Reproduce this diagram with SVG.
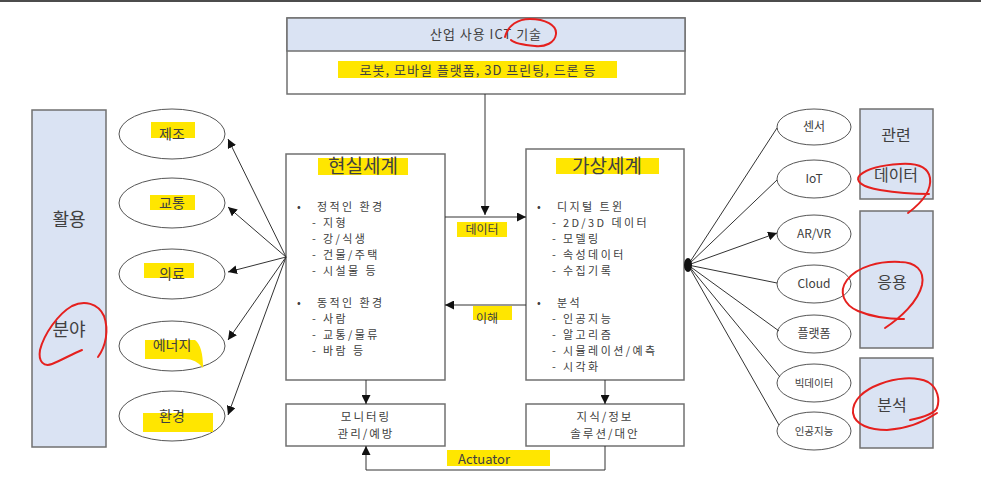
<svg xmlns="http://www.w3.org/2000/svg" width="981" height="489" viewBox="0 0 981 489">
<defs>
<style>
text{font-family:"Noto Sans CJK KR","Noto Sans",sans-serif;fill:#404040;}
.c{text-anchor:middle;}
.hl{fill:#FFE600;}
.box{fill:#fff;stroke:#707070;stroke-width:1.5;}
.blue{fill:#DAE3F3;stroke:#707070;stroke-width:1.5;}
.ell{fill:#fff;stroke:#555;stroke-width:1;}
.ln{stroke:#333;stroke-width:1;fill:none;}
.red{stroke:#E5201E;stroke-width:2;fill:none;stroke-linecap:round;}
.t13{font-size:11px;letter-spacing:2.4px;}
.t12{font-size:11.5px;letter-spacing:2px;}
</style>
<marker id="ah" viewBox="0 0 10 10" refX="10" refY="5" markerWidth="9" markerHeight="9" markerUnits="userSpaceOnUse" orient="auto"><path d="M0,0 L10,5 L0,10 z" fill="#111"/></marker>
</defs>
<rect width="981" height="489" fill="#fff"/>
<line x1="0" y1="1" x2="981" y2="1" stroke="#111" stroke-width="1.5"/>

<g id="ict">
<rect class="box" x="287" y="18" width="398" height="76"/>
<rect class="blue" x="287" y="18" width="398" height="33"/>
<text class="c" x="486" y="39" font-size="13" letter-spacing="1">산업 사용 ICT 기술</text>
<rect class="hl" x="338" y="61" width="279" height="17"/>
<text class="c" x="478" y="75" font-size="13" letter-spacing="1">로봇, 모바일 플랫폼, 3D 프린팅, 드론 등</text>
</g>

<g id="hwalyong">
<rect class="blue" x="32" y="110" width="74" height="337"/>
<text class="c" x="69" y="226" font-size="18">활용</text>
<text class="c" x="69" y="336" font-size="18">분야</text>
</g>

<g id="left-fields">
<ellipse class="ell" cx="172" cy="134" rx="53" ry="25"/>
<rect class="hl" x="151" y="122" width="44" height="16"/>
<text class="c" x="172" y="139" font-size="14">제조</text>
<ellipse class="ell" cx="172" cy="203" rx="53" ry="25"/>
<rect class="hl" x="150" y="195" width="45" height="15"/>
<text class="c" x="172" y="208" font-size="14">교통</text>
<ellipse class="ell" cx="172" cy="274" rx="53" ry="25"/>
<rect class="hl" x="144" y="263" width="50" height="15"/>
<text class="c" x="172" y="279" font-size="14">의료</text>
<ellipse class="ell" cx="172" cy="346" rx="53" ry="25"/>
<path class="hl" d="M145,340 H195 Q203,346 203,368 Q196,359 185,359 H145 z"/>
<text class="c" x="172" y="350" font-size="14">에너지</text>
<ellipse class="ell" cx="172" cy="416" rx="53" ry="25"/>
<rect class="hl" x="143" y="413" width="70" height="19"/>
<text class="c" x="172" y="421" font-size="14">환경</text>
</g>

<g id="real">
<rect class="box" x="286" y="154" width="159" height="226"/>
<rect class="hl" x="318" y="158" width="90" height="17"/>
<text class="c" x="363" y="173" font-size="19">현실세계</text>
<text class="t13" x="297" y="211">•</text>
<text class="t13" x="317" y="211">정적인 환경</text>
<text class="t13" x="312" y="227">- 지형</text>
<text class="t13" x="312" y="243">- 강/식생</text>
<text class="t13" x="312" y="259">- 건물/주택</text>
<text class="t13" x="312" y="275">- 시설물 등</text>
<text class="t13" x="297" y="307">•</text>
<text class="t13" x="317" y="307">동적인 환경</text>
<text class="t13" x="312" y="323">- 사람</text>
<text class="t13" x="312" y="339">- 교통/물류</text>
<text class="t13" x="312" y="355">- 바람 등</text>
</g>

<g id="virtual">
<rect class="box" x="526" y="149" width="158" height="231"/>
<rect class="hl" x="556" y="158" width="103" height="16"/>
<text class="c" x="607" y="173" font-size="19">가상세계</text>
<text class="t13" x="537" y="211">•</text>
<text class="t13" x="557" y="211">디지털 트윈</text>
<text class="t13" x="552" y="227">- 2D/3D 데이터</text>
<text class="t13" x="552" y="243">- 모델링</text>
<text class="t13" x="552" y="259">- 속성데이터</text>
<text class="t13" x="552" y="275">- 수집기록</text>
<text class="t13" x="537" y="307">•</text>
<text class="t13" x="557" y="307">분석</text>
<text class="t13" x="552" y="323">- 인공지능</text>
<text class="t13" x="552" y="339">- 알고리즘</text>
<text class="t13" x="552" y="355">- 시뮬레이션/예측</text>
<text class="t13" x="552" y="371">- 시각화</text>
</g>

<g id="monitor">
<rect class="box" x="286" y="404" width="159" height="42"/>
<text class="c t12" x="366" y="421">모니터링</text>
<text class="c t12" x="366" y="438">관리/예방</text>
</g>

<g id="knowledge">
<rect class="box" x="526" y="404" width="158" height="42"/>
<text class="c t12" x="605" y="421">지식/정보</text>
<text class="c t12" x="605" y="438">솔루션/대안</text>
</g>

<g id="right-tech">
<ellipse class="ell" cx="814" cy="127" rx="37" ry="18"/>
<text class="c" x="814" y="131" font-size="12">센서</text>
<ellipse class="ell" cx="814" cy="179" rx="37" ry="19"/>
<text class="c" x="814" y="183" font-size="12">IoT</text>
<ellipse class="ell" cx="814" cy="234" rx="37" ry="19"/>
<text class="c" x="814" y="238" font-size="12">AR/VR</text>
<ellipse class="ell" cx="814" cy="284" rx="37" ry="19"/>
<text class="c" x="814" y="288" font-size="12">Cloud</text>
<ellipse class="ell" cx="814" cy="334" rx="37" ry="19"/>
<text class="c" x="814" y="338" font-size="12">플랫폼</text>
<ellipse class="ell" cx="814" cy="383" rx="37" ry="19"/>
<text class="c" x="814" y="387" font-size="10.5">빅데이터</text>
<ellipse class="ell" cx="814" cy="431" rx="37" ry="19"/>
<text class="c" x="814" y="435" font-size="10.5">인공지능</text>
</g>

<g id="right-panels">
<rect class="blue" x="860" y="109" width="73" height="90"/>
<text class="c" x="896" y="141" font-size="16">관련</text>
<text class="c" x="896" y="181" font-size="16">데이터</text>
<rect class="blue" x="860" y="211" width="73" height="137"/>
<text class="c" x="892" y="288" font-size="16">응용</text>
<rect class="blue" x="860" y="358" width="73" height="90"/>
<text class="c" x="892" y="411" font-size="16">분석</text>
</g>

<g id="connectors">
<line class="ln" x1="286" y1="257" x2="228" y2="139" marker-end="url(#ah)"/>
<line class="ln" x1="286" y1="257" x2="228" y2="207" marker-end="url(#ah)"/>
<line class="ln" x1="286" y1="257" x2="228" y2="272" marker-end="url(#ah)"/>
<line class="ln" x1="286" y1="257" x2="228" y2="340" marker-end="url(#ah)"/>
<line class="ln" x1="286" y1="257" x2="228" y2="415" marker-end="url(#ah)"/>
<line class="ln" x1="485" y1="94" x2="485" y2="215" marker-end="url(#ah)"/>
<line class="ln" x1="445" y1="217" x2="526" y2="217" marker-end="url(#ah)"/>
<rect class="hl" x="457" y="222" width="50" height="15"/>
<text class="c" x="482" y="234" font-size="12">데이터</text>
<line class="ln" x1="526" y1="305" x2="445" y2="305" marker-end="url(#ah)"/>
<rect class="hl" x="473" y="306" width="39" height="14"/>
<text class="c" x="487" y="323" font-size="12">이해</text>
<line class="ln" x1="366" y1="380" x2="366" y2="404" marker-end="url(#ah)"/>
<line class="ln" x1="605" y1="380" x2="605" y2="404" marker-end="url(#ah)"/>
<polyline class="ln" points="605,446 605,470 366,470 366,446" marker-end="url(#ah)"/>
<rect class="hl" x="447" y="450" width="103" height="16"/>
<text x="458" y="464" font-size="13" font-family="Open Sans,sans-serif">Actuator</text>
<line class="ln" x1="688" y1="265" x2="777" y2="128"/>
<line class="ln" x1="688" y1="265" x2="777" y2="180"/>
<line class="ln" x1="688" y1="265" x2="777" y2="233" marker-end="url(#ah)"/>
<line class="ln" x1="688" y1="265" x2="777" y2="283"/>
<line class="ln" x1="688" y1="265" x2="779" y2="331"/>
<line class="ln" x1="688" y1="265" x2="780" y2="377"/>
<line class="ln" x1="688" y1="265" x2="779" y2="425"/>
<ellipse cx="688" cy="265" rx="4" ry="7" fill="#111"/>
</g>

<g id="annotations">
<path class="red" d="M505,37 C508,25 518,19 530,19 C545,19 557,25 556,34 C555,43 545,47 535,46 C524,45 514,43 511,40"/>
<path class="red" d="M98,357 C106,346 109,330 104,316 C98,303 84,300 72,306 C58,314 44,334 40,350 C38,362 44,367 52,364 C62,360 72,354 82,350"/>
<path class="red" d="M908,213 C920,204 932,192 930,178 C928,166 916,163 900,164 C884,165 868,168 860,175 C854,181 862,187 880,190 C898,193 915,194 929,194"/>
<path class="red" d="M885,328 C900,318 918,302 922,285 C925,270 915,262 900,262 C880,261 858,266 847,280 C838,292 844,305 858,311 C872,317 890,319 904,319"/>
<path class="red" d="M910,420 C920,418 934,414 937,408 C940,400 938,388 928,382 C915,376 895,378 880,384 C864,390 852,400 853,413 C855,425 870,430 887,430 C905,429 922,423 937,413"/>
</g>
</svg>
